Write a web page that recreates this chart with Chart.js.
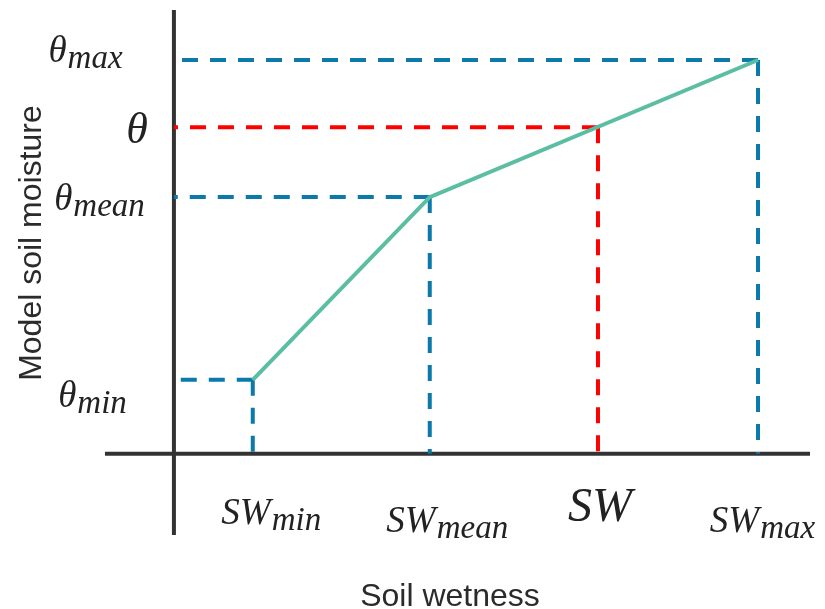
<!DOCTYPE html>
<html>
<head>
<meta charset="utf-8">
<script src="https://cdn.jsdelivr.net/npm/chart.js@4/dist/chart.umd.min.js"></script>
<style>
  html, body { margin: 0; padding: 0; background: #ffffff; }
  canvas { display: block; }
</style>
</head>
<body>
<canvas id="chart" width="825" height="609"></canvas>
<script>
// Breakpoints on the soil-wetness axis and matching model soil moisture values
const pointNames   = ['min', 'mean', '', 'max'];
const swValues     = [0.135, 0.438, 0.726, 1.0];
const thetaValues  = [0.188, 0.652, 0.829, 1.0];

// Piecewise-linear mapping drawn through min, mean and max
const curveSW    = [0.135, 0.438, 1.0];
const curveTheta = [0.188, 0.652, 1.0];

// Extent of the two drawn axes
const xAxisRange = [-0.118, 1.089];
const yAxisRange = [-0.206, 1.127];

const xTitle = 'Soil wetness';
const yTitle = 'Model soil moisture';

// ---- styling ----
const AXIS_COLOR  = '#333333';
const CURVE_COLOR = '#5bbea3';
const GUIDE_BLUE  = '#0b79a9';
const GUIDE_RED   = '#ff0000';
const DASH = [16, 12];
const SERIF = '"Liberation Serif", "DejaVu Serif", serif';
const SANS  = '"Liberation Sans", Arial, sans-serif';

// label layout per breakpoint: theta label centre x / baseline offset, SW label dx / baseline
const thetaLabelLayout = [
  { cx: 92,  dy: 27 },
  { cx: 99,  dy: 13 },
  { cx: 137, dy: 16 },
  { cx: 85,  dy: 2 }
];
const swLabelLayout = [
  { dx: 18, base: 524 },
  { dx: 17, base: 532 },
  { dx: 2,  base: 521 },
  { dx: 4,  base: 532 }
];

const datasets = [];

// main curve on top
datasets.push({
  data: curveSW.map((x, i) => ({ x, y: curveTheta[i] })),
  borderColor: CURVE_COLOR,
  borderWidth: 4,
  pointRadius: 0,
  showLine: true,
  fill: false,
  clip: false
});

// dashed guides from each breakpoint to both axes
swValues.forEach((sx, i) => {
  const color = pointNames[i] === '' ? GUIDE_RED : GUIDE_BLUE;
  const common = {
    borderColor: color,
    borderWidth: 4,
    borderDash: DASH,
    pointRadius: 0,
    showLine: true,
    fill: false,
    clip: false
  };
  datasets.push(Object.assign({ data: [{ x: sx, y: thetaValues[i] }, { x: 0, y: thetaValues[i] }] }, common));
  datasets.push(Object.assign({ data: [{ x: sx, y: thetaValues[i] }, { x: sx, y: 0 }] }, common));
});

// the two crossing axes
datasets.push({
  data: [{ x: xAxisRange[0], y: 0 }, { x: xAxisRange[1], y: 0 }],
  borderColor: AXIS_COLOR, borderWidth: 4, pointRadius: 0, showLine: true, clip: false
});
datasets.push({
  data: [{ x: 0, y: yAxisRange[0] }, { x: 0, y: yAxisRange[1] }],
  borderColor: AXIS_COLOR, borderWidth: 4, pointRadius: 0, showLine: true, clip: false
});

// draws a symbol with an optional italic subscript, centred on cx
function drawSymbol(ctx, main, sub, cx, baseline, mainSize, subSize) {
  ctx.font = 'italic ' + mainSize + 'px ' + SERIF;
  const wMain = ctx.measureText(main).width;
  let wSub = 0;
  if (sub) {
    ctx.font = 'italic ' + subSize + 'px ' + SERIF;
    wSub = ctx.measureText(sub).width;
  }
  const left = cx - (wMain + wSub) / 2;
  ctx.textAlign = 'left';
  ctx.textBaseline = 'alphabetic';
  ctx.font = 'italic ' + mainSize + 'px ' + SERIF;
  ctx.fillText(main, left, baseline);
  if (sub) {
    ctx.font = 'italic ' + subSize + 'px ' + SERIF;
    ctx.fillText(sub, left + wMain + 1, baseline + 6);
  }
}

const labelPlugin = {
  id: 'symbolLabels',
  afterDraw(chart) {
    const ctx = chart.ctx;
    const xs = chart.scales.x, ys = chart.scales.y;
    ctx.save();
    ctx.fillStyle = '#222222';
    pointNames.forEach((name, i) => {
      const big = name === '';
      const yPix = ys.getPixelForValue(thetaValues[i]);
      const xPix = xs.getPixelForValue(swValues[i]);
      const tl = thetaLabelLayout[i];
      const sl = swLabelLayout[i];
      drawSymbol(ctx, '\u03B8', name, tl.cx, yPix + tl.dy, big ? 44 : 37, 33);
      drawSymbol(ctx, 'SW', name, xPix + sl.dx, sl.base, big ? 48 : 37, 33);
    });

    // axis titles
    ctx.fillStyle = '#2b2b2b';
    ctx.font = '32px ' + SANS;
    ctx.textAlign = 'center';
    ctx.textBaseline = 'alphabetic';
    ctx.fillText(xTitle, 450, 606);
    ctx.translate(41, 243);
    ctx.rotate(-Math.PI / 2);
    ctx.fillText(yTitle, 0, 0);
    ctx.restore();
  }
};

new Chart(document.getElementById('chart'), {
  type: 'scatter',
  data: { datasets },
  options: {
    responsive: false,
    animation: false,
    layout: { padding: { left: 105, right: 15, top: 10, bottom: 74 } },
    plugins: { legend: { display: false }, tooltip: { enabled: false } },
    scales: {
      x: { type: 'linear', min: xAxisRange[0], max: xAxisRange[1], display: false },
      y: { type: 'linear', min: yAxisRange[0], max: yAxisRange[1], display: false }
    }
  },
  plugins: [labelPlugin]
});
</script>
</body>
</html>
